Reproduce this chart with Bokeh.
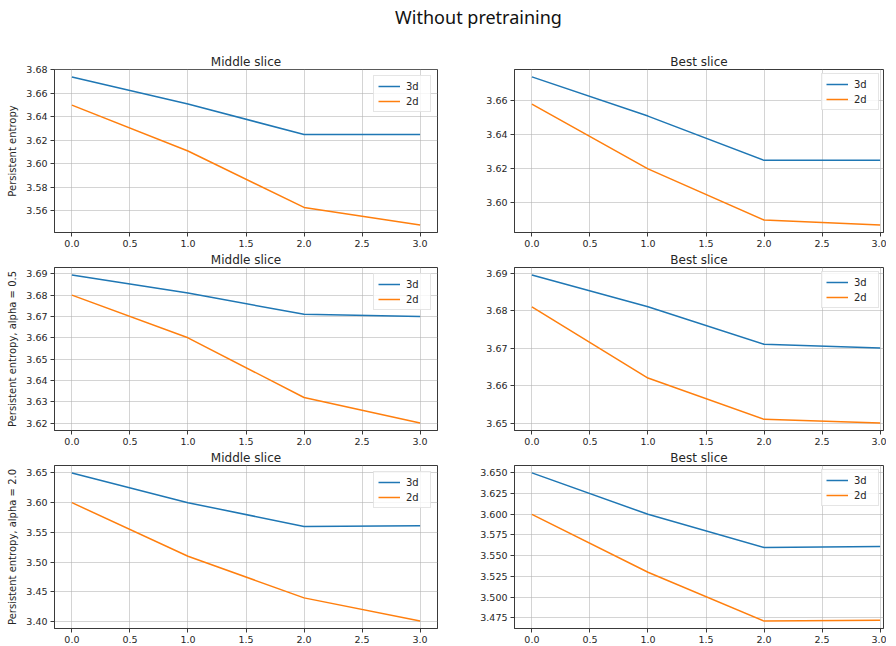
from bokeh.plotting import figure
from bokeh.layouts import column, row
from bokeh.models import Range1d, FixedTicker, PrintfTickFormatter, Legend, LegendItem, Label
from bokeh.embed import file_html
from bokeh.resources import INLINE

# ---------------- data ----------------
x = [0, 1, 2, 3]
x_ticks = [0.0, 0.5, 1.0, 1.5, 2.0, 2.5, 3.0]

mid_pe_3d = [3.674, 3.651, 3.625, 3.625]
mid_pe_2d = [3.650, 3.611, 3.563, 3.548]
best_pe_3d = [3.674, 3.651, 3.625, 3.625]
best_pe_2d = [3.658, 3.620, 3.590, 3.587]

mid_a05_3d = [3.6895, 3.681, 3.671, 3.670]
mid_a05_2d = [3.680, 3.660, 3.632, 3.620]
best_a05_3d = [3.6895, 3.681, 3.671, 3.670]
best_a05_2d = [3.681, 3.662, 3.651, 3.650]

mid_a2_3d = [3.650, 3.600, 3.560, 3.561]
mid_a2_2d = [3.600, 3.510, 3.440, 3.401]
best_a2_3d = [3.650, 3.600, 3.560, 3.561]
best_a2_2d = [3.600, 3.530, 3.471, 3.472]

yt_mid_pe = [3.56, 3.58, 3.60, 3.62, 3.64, 3.66, 3.68]
yt_best_pe = [3.60, 3.62, 3.64, 3.66]
yt_mid_a05 = [3.62, 3.63, 3.64, 3.65, 3.66, 3.67, 3.68, 3.69]
yt_best_a05 = [3.65, 3.66, 3.67, 3.68, 3.69]
yt_mid_a2 = [3.40, 3.45, 3.50, 3.55, 3.60, 3.65]
yt_best_a2 = [3.475, 3.500, 3.525, 3.550, 3.575, 3.600, 3.625, 3.650]

series_labels = ["3d", "2d"]
suptitle = "Without pretraining"
col_titles = ["Middle slice", "Best slice"]
row_ylabels = ["Persistent entropy", "Persistent entropy, alpha = 0.5", "Persistent entropy, alpha = 2.0"]

# ---------------- style ----------------
FONT = "DejaVu Sans"
BLUE = "#1f77b4"
ORANGE = "#ff7f0e"
TXT = "#262626"
FRAME_H = 163
LEFT_W = 383
RIGHT_W = 369
LB = 54   # left border of left column
RB1 = 5
LB2 = 72
RB2 = 3
TITLE_H = 51


def make(title, ylabel, y3d, y2d, yticks, yfmt, left_col):
    mn = min(y3d + y2d)
    mx = max(y3d + y2d)
    span = mx - mn
    yr = Range1d(mn - 0.05 * span, mx + 0.05 * span)
    if left_col:
        xr = Range1d(-0.15, 3.15)
        fw = LEFT_W
    else:
        xr = Range1d(-0.15, -0.15 + 3.3 * RIGHT_W / LEFT_W)
        fw = RIGHT_W
    p = figure(frame_width=fw, frame_height=FRAME_H, x_range=xr, y_range=yr,
               output_backend="svg", toolbar_location=None,
               min_border_left=LB if left_col else LB2,
               min_border_right=RB1 if left_col else RB2,
               min_border_top=15, min_border_bottom=17, title=title)
    p.title.align = "center"
    p.title.text_font = FONT
    p.title.text_font_size = "12px"
    p.title.text_font_style = "normal"
    p.title.text_color = TXT
    p.title.standoff = 2
    p.background_fill_color = "white"
    p.border_fill_color = "white"
    p.outline_line_color = "#3a3a3a"
    p.outline_line_width = 1

    l1 = p.line(x, y3d, line_color=BLUE, line_width=1.5)
    l2 = p.line(x, y2d, line_color=ORANGE, line_width=1.5)

    p.xaxis.ticker = FixedTicker(ticks=x_ticks)
    p.xaxis.formatter = PrintfTickFormatter(format="%.1f")
    p.yaxis.ticker = FixedTicker(ticks=yticks)
    p.yaxis.formatter = PrintfTickFormatter(format=yfmt)
    p.xgrid.ticker = FixedTicker(ticks=x_ticks)
    p.ygrid.ticker = FixedTicker(ticks=yticks)
    for ax in (p.xaxis[0], p.yaxis[0]):
        ax.major_label_text_font = FONT
        ax.major_label_text_font_size = "9.5px"
        ax.major_label_text_color = TXT
        ax.major_tick_line_color = "#3a3a3a"
        ax.major_tick_out = 4
        ax.major_tick_in = 0
        ax.minor_tick_line_color = None
        ax.axis_line_color = "#3a3a3a"
        ax.major_label_standoff = 3
    if ylabel:
        p.yaxis.axis_label = ylabel
        p.yaxis.axis_label_text_font = FONT
        p.yaxis.axis_label_text_font_size = "10px"
        p.yaxis.axis_label_text_font_style = "normal"
        p.yaxis.axis_label_text_color = TXT
        p.yaxis.axis_label_standoff = 5
    p.grid.grid_line_color = "#b0b0b0"
    p.grid.grid_line_alpha = 0.55
    p.grid.grid_line_width = 1

    legend = Legend(items=[LegendItem(label=series_labels[0], renderers=[l1]),
                           LegendItem(label=series_labels[1], renderers=[l2])])
    legend.location = "top_right"
    legend.margin = 6 if left_col else 4
    legend.padding = 4
    legend.spacing = 3
    legend.label_height = 12
    legend.glyph_height = 12
    legend.glyph_width = 22
    legend.label_standoff = 6
    legend.label_text_font = FONT
    legend.label_text_font_size = "10px"
    legend.label_text_color = TXT
    legend.border_line_color = "#cccccc"
    legend.border_line_width = 1
    legend.background_fill_alpha = 0.8
    p.add_layout(legend)
    return p


p11 = make(col_titles[0], row_ylabels[0], mid_pe_3d, mid_pe_2d, yt_mid_pe, "%.2f", True)
p12 = make(col_titles[1], None, best_pe_3d, best_pe_2d, yt_best_pe, "%.2f", False)
p21 = make(col_titles[0], row_ylabels[1], mid_a05_3d, mid_a05_2d, yt_mid_a05, "%.2f", True)
p22 = make(col_titles[1], None, best_a05_3d, best_a05_2d, yt_best_a05, "%.2f", False)
p31 = make(col_titles[0], row_ylabels[2], mid_a2_3d, mid_a2_2d, yt_mid_a2, "%.2f", True)
p32 = make(col_titles[1], None, best_a2_3d, best_a2_2d, yt_best_a2, "%.3f", False)

TOTAL_W = LB + LEFT_W + RB1 + LB2 + RIGHT_W + RB2
t = figure(frame_width=TOTAL_W, frame_height=TITLE_H, x_range=Range1d(0, TOTAL_W), y_range=Range1d(0, TITLE_H),
           output_backend="svg", toolbar_location=None, min_border=0,
           x_axis_location=None, y_axis_location=None)
t.grid.visible = False
t.outline_line_color = None
t.add_layout(Label(x=478, y=TITLE_H - 16, text=suptitle, text_align="center", text_baseline="middle",
                   text_font="Noto Sans", text_font_size="18px", text_color="#111111"))

layout = column(t, row(p11, p12), row(p21, p22), row(p31, p32))

with open("out.html", "w") as f:
    f.write(file_html(layout, INLINE))
